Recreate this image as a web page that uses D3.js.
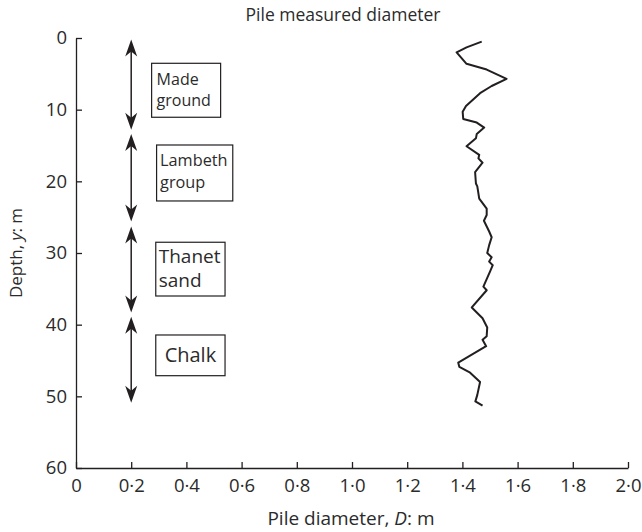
<!DOCTYPE html>
<html>
<head>
<meta charset="utf-8">
<script src="https://cdn.jsdelivr.net/npm/d3@7"></script>
<style>
  body { margin: 0; background: #fff; }
  text { font-family: "Open Sans", sans-serif; fill: #2b2b2b; }
</style>
</head>
<body>
<div id="chart"></div>
<script>
// measured profile: depth (m) and diameter (m)
var depths = [0.5, 1.3, 2.0, 3.6, 4.4, 5.7, 6.7, 7.7, 9.5, 10.3, 11.3, 11.8, 12.5, 13.4, 14.0, 15.1, 16.3, 16.8, 17.4, 18.7, 20.3, 20.7, 22.4, 23.8, 24.7, 25.5, 27.0, 27.8, 28.9, 30.0, 30.6, 31.2, 31.7, 32.6, 34.7, 35.2, 37.6, 39.1, 40.4, 41.6, 42.1, 43.0, 45.3, 45.9, 46.7, 48.0, 49.8, 50.7, 51.3];
var diameters = [1.470, 1.415, 1.379, 1.415, 1.488, 1.560, 1.506, 1.464, 1.413, 1.401, 1.403, 1.452, 1.479, 1.452, 1.449, 1.415, 1.461, 1.458, 1.473, 1.446, 1.449, 1.454, 1.461, 1.488, 1.488, 1.478, 1.497, 1.506, 1.497, 1.490, 1.506, 1.497, 1.510, 1.500, 1.476, 1.488, 1.434, 1.473, 1.490, 1.488, 1.473, 1.486, 1.385, 1.389, 1.428, 1.464, 1.454, 1.447, 1.473];

// strata
var layerNames = [["Made", "ground"], ["Lambeth", "group"], ["Thanet", "sand"], ["Chalk"]];
var layerTop = [0.2, 13.4, 26.3, 38.9];
var layerBottom = [12.8, 25.6, 38.3, 50.9];
var arrowX = 0.2;

var xTicks = [0, 0.2, 0.4, 0.6, 0.8, 1.0, 1.2, 1.4, 1.6, 1.8, 2.0];
var yTicks = [0, 10, 20, 30, 40, 50, 60];

// label box layout (diameter / depth units)
var boxes = [
  {x0: 0.274, x1: 0.524, y0: 3.53, y1: 11.06, size: 16, dx: 5, dy: [22, 21], anchor: "start"},
  {x0: 0.292, x1: 0.568, y0: 14.93, y1: 22.74, size: 16.3, dx: 3.5, dy: [21, 22], anchor: "start"},
  {x0: 0.289, x1: 0.540, y0: 28.5, y1: 36.0, size: 19, dx: 3, dy: [21, 24], anchor: "start"},
  {x0: 0.289, x1: 0.540, y0: 41.44, y1: 47.12, size: 20, dx: 0, dy: [27], anchor: "middle"}
];

var width = 642, height = 532;
var svg = d3.select("#chart").append("svg").attr("width", width).attr("height", height);

var x = d3.scaleLinear().domain([0, 2]).range([76, 628]);
var y = d3.scaleLinear().domain([0, 60]).range([38, 468]);

var fmt = function(d) { return d === 0 ? "0" : d3.format(".1f")(d).replace(".", "\u00b7"); };

var xAxis = svg.append("g")
  .attr("transform", "translate(0," + y(60) + ")")
  .call(d3.axisBottom(x).tickValues(xTicks).tickFormat(fmt).tickSizeInner(-6).tickSizeOuter(0).tickPadding(11));

var yAxis = svg.append("g")
  .attr("transform", "translate(" + x(0) + ",0)")
  .call(d3.axisLeft(y).tickValues(yTicks).tickSizeInner(-6).tickSizeOuter(0).tickPadding(9));

[xAxis, yAxis].forEach(function(g) {
  g.selectAll("path, line").attr("stroke", "#231f20").attr("stroke-width", 1.3);
  g.selectAll("text").style("font-size", "18.5px").attr("fill", "#2b2b2b").style("font-family", "'Open Sans', sans-serif");
});

svg.append("text").attr("x", 343).attr("y", 21).attr("text-anchor", "middle")
  .style("font-size", "17.5px").text("Pile measured diameter");

svg.append("text").attr("x", 351).attr("y", 525).attr("text-anchor", "middle")
  .style("font-size", "19px")
  .call(function(t) {
    t.append("tspan").text("Pile diameter, ");
    t.append("tspan").style("font-style", "italic").text("D");
    t.append("tspan").text(": m");
  });

svg.append("text").attr("transform", "translate(22,253) rotate(-90)").attr("text-anchor", "middle")
  .style("font-size", "17px")
  .call(function(t) {
    t.append("tspan").text("Depth, ");
    t.append("tspan").style("font-style", "italic").text("y");
    t.append("tspan").text(": m");
  });

// strata arrows
var head = function(px, py, dir) {
  // dir = 1 points up, -1 points down
  var l = 17, n = 12, w = 6;
  return "M" + px + "," + py +
    "L" + (px - w) + "," + (py + dir * l) +
    "L" + px + "," + (py + dir * n) +
    "L" + (px + w) + "," + (py + dir * l) + "Z";
};

layerNames.forEach(function(name, i) {
  var ax = x(arrowX);
  svg.append("line")
    .attr("x1", ax).attr("x2", ax)
    .attr("y1", y(layerTop[i]) + 8).attr("y2", y(layerBottom[i]) - 8)
    .attr("stroke", "#231f20").attr("stroke-width", 1.5);
  svg.append("path").attr("d", head(ax, y(layerTop[i]), 1)).attr("fill", "#231f20");
  svg.append("path").attr("d", head(ax, y(layerBottom[i]), -1)).attr("fill", "#231f20");

  var b = boxes[i];
  svg.append("rect")
    .attr("x", x(b.x0)).attr("y", y(b.y0))
    .attr("width", x(b.x1) - x(b.x0)).attr("height", y(b.y1) - y(b.y0))
    .attr("fill", "none").attr("stroke", "#231f20").attr("stroke-width", 1.2);
  var tx = b.anchor === "middle" ? (x(b.x0) + x(b.x1)) / 2 : x(b.x0) + b.dx;
  var by = y(b.y0);
  name.forEach(function(line, j) {
    by += b.dy[j];
    svg.append("text").attr("x", tx).attr("y", by).attr("text-anchor", b.anchor)
      .style("font-size", b.size + "px").text(line);
  });
});

// measured diameter line
var pts = depths.map(function(d, i) { return [diameters[i], d]; });
svg.append("path")
  .datum(pts)
  .attr("fill", "none")
  .attr("stroke", "#231f20")
  .attr("stroke-width", 2)
  .attr("stroke-linejoin", "round")
  .attr("d", d3.line().x(function(d) { return x(d[0]); }).y(function(d) { return y(d[1]); }));
</script>
</body>
</html>
